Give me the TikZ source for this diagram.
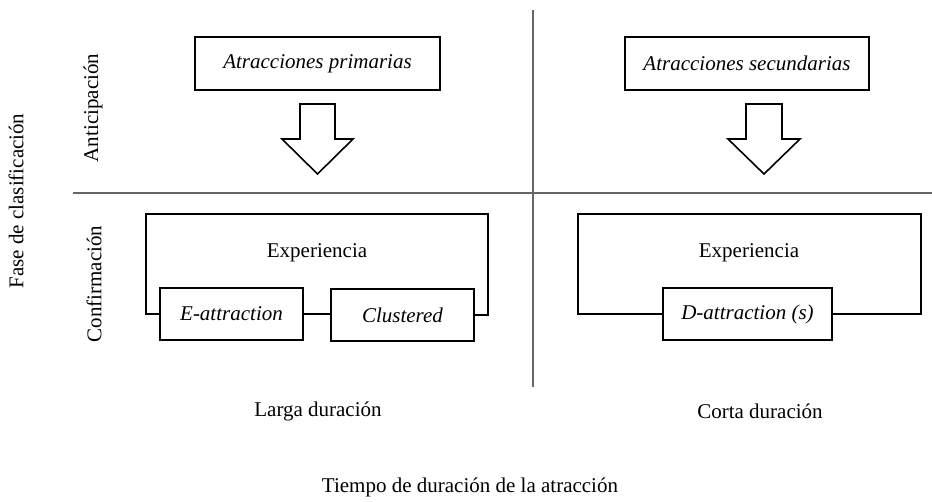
\documentclass[tikz,border=0pt]{standalone}
\usepackage{fontspec}
\setmainfont{Liberation Serif}
\begin{document}
\begin{tikzpicture}[x=1pt,y=-1pt,
  every node/.style={font=\fontsize{21}{24}\selectfont, inner sep=0pt},
  axis/.style={draw=black!60, line width=1.2pt},
  boxed/.style={draw=black, line width=1.6pt, rectangle, anchor=center},
  wire/.style={draw=black, line width=1.6pt},
  blockarrow/.style={draw=black, line width=1.6pt, fill=white, line join=miter}
]
\useasboundingbox (0,0) rectangle (932,502);
% axes
\coordinate (hl) at (73,193);
\coordinate (hr) at (932,193);
\coordinate (vt) at (533,10);
\coordinate (vb) at (533,387);
\draw[axis] (hl) -- (hr);
\draw[axis] (vt) -- (vb);
% top boxes
\node[boxed, minimum width=245, minimum height=53] (ap) at (317.5,63.5) {\itshape Atracciones primarias};
\node[boxed, minimum width=244, minimum height=53] (as) at (747,63.5) {\itshape Atracciones secundarias};
% block arrows
\draw[blockarrow] (300,104) -- (335,104) -- (335,139) -- (353,139) -- (317.5,174) -- (282,139) -- (300,139) -- cycle;
\draw[blockarrow] (746,104) -- (782,104) -- (782,139) -- (800,139) -- (764,174) -- (728,139) -- (746,139) -- cycle;
% bottom left
\node (ex1) at (317,253) {Experiencia};
\node[boxed, minimum width=143, minimum height=52] (ea) at (231.5,314) {\itshape E-attraction};
\node[boxed, minimum width=143, minimum height=52] (cl) at (402.5,315) {\itshape Clustered};
\coordinate (l1tl) at (146,214);
\coordinate (l1tr) at (488,214);
\draw[wire] (ea.west) -| (l1tl) -- (l1tr) |- (cl.east);
\draw[wire] (ea.east) -- (ea.east -| cl.west);
% bottom right
\node (ex2) at (749,253) {Experiencia};
\node[boxed, minimum width=169, minimum height=52] (da) at (747.5,314) {\itshape D-attraction (s)};
\coordinate (l2tl) at (578,214);
\coordinate (l2tr) at (921,214);
\draw[wire] (da.west) -| (l2tl) -- (l2tr) |- (da.east);
% side labels
\node[rotate=90] (ant) at (93,108) {Anticipación};
\node[rotate=90] (conf) at (94,284) {Confirmación};
\node[rotate=90] (fase) at (16,201) {Fase de clasificación};
% bottom labels
\node (larga) at (318,411) {Larga duración};
\node (corta) at (760,411) {Corta duración};
\node (tiempo) at (470,487) {Tiempo de duración de la atracción};
\end{tikzpicture}
\end{document}
